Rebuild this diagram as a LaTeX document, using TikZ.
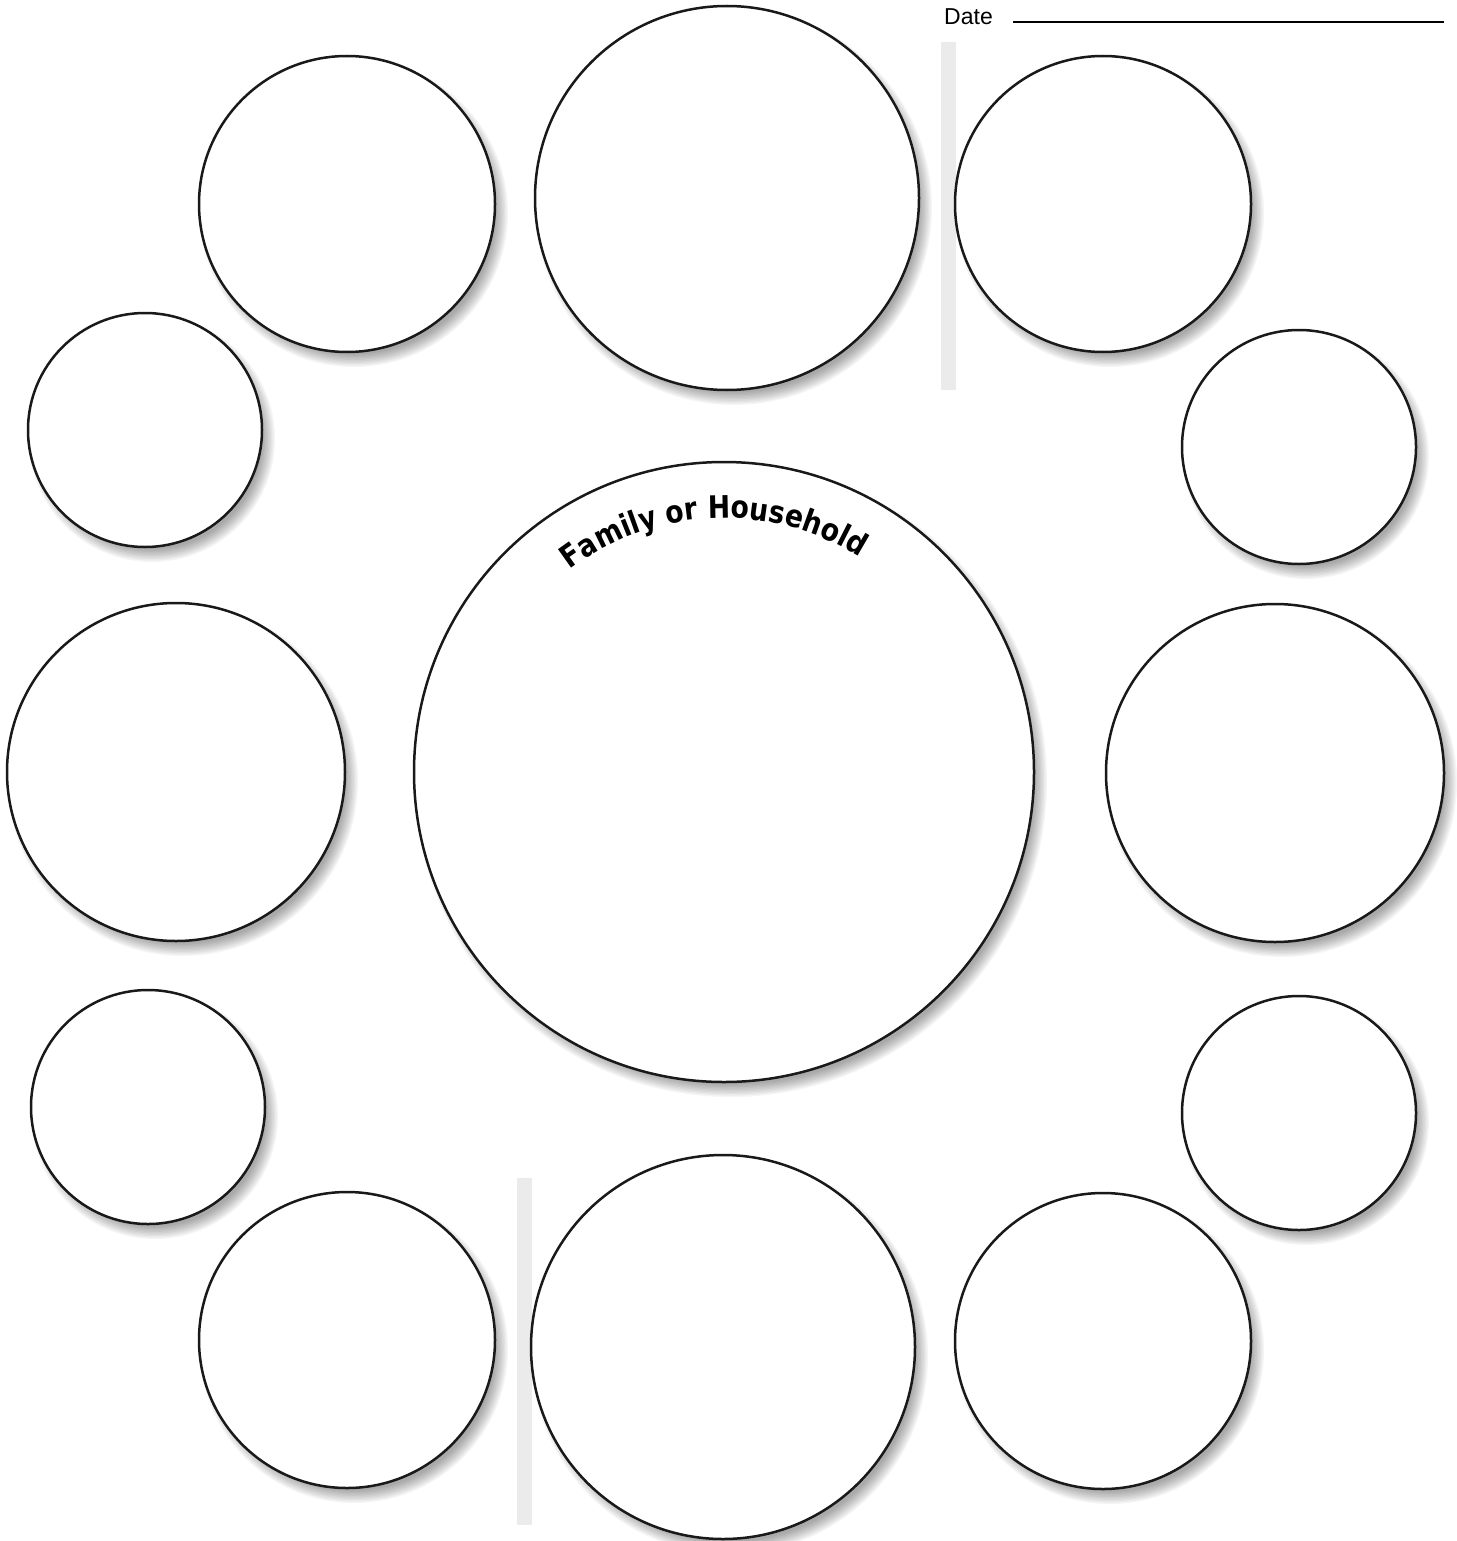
\documentclass[tikz,border=0pt]{standalone}
\usepackage{fontspec}
\setmainfont{Liberation Sans}
\newfontfamily\hfont[FakeStretch=0.86]{DejaVu Sans}
\usetikzlibrary{decorations.text,calc}
\tikzset{
  circ/.style={circle, draw=black!90, line width=2.5pt, fill=white, inner sep=0pt},
  barfill/.style={fill=black!8},
  shadowring/.style={fill=black, opacity=0.04},
}
\begin{document}
\begin{tikzpicture}[x=1pt,y=1pt]
\useasboundingbox (0,0) rectangle (1456,-1541);
% grey bars
\fill[barfill] (941,-42) rectangle (956,-390);
\fill[barfill] (517,-1178) rectangle (532,-1525);
% date
\node[anchor=base west, font=\fontsize{23}{23}\selectfont, inner sep=0pt] (date) at (944,-25) {Date};
\coordinate (dl1) at (1013,-22);
\coordinate (dl2) at (1444,-22);
\draw[line width=2.5pt] (dl1) -- (dl2);
% shadows
\foreach \x/\y/\r in {347/204/148, 727/198/192, 1103/204/148, 145/430/117, 1299/447/117, 724/772/310, 176/772/169, 1275/773/169, 148/1107/117, 1299/1113/117, 347/1340/148, 723/1347/192, 1103/1341/148}{
  \foreach \k in {0,...,9}{
    \fill[shadowring] (\x+7,-\y-9) circle[radius=\r+6-\k*1.4];
  }
}
% circles
\foreach \n/\x/\y/\r in {tl/347/204/148, tc/727/198/192, tr/1103/204/148, ls/145/430/117, rs/1299/447/117, c/724/772/310, lm/176/772/169, rm/1275/773/169, lb/148/1107/117, rb/1299/1113/117, bl/347/1340/148, bc/723/1347/192, br/1103/1341/148}{
  \node[circ, minimum size={2*\r pt}] (\n) at (\x,-\y) {};
}
% curved title
\path[decorate, decoration={text along path, text align=center,
  text format delimiters={|}{|},
  text={|\hfont\bfseries\fontsize{31}{31}\selectfont|Family or Household}}]
  ($(c.center)+(135:254)$) arc[start angle=135, end angle=50, radius=254];
\end{tikzpicture}
\end{document}
